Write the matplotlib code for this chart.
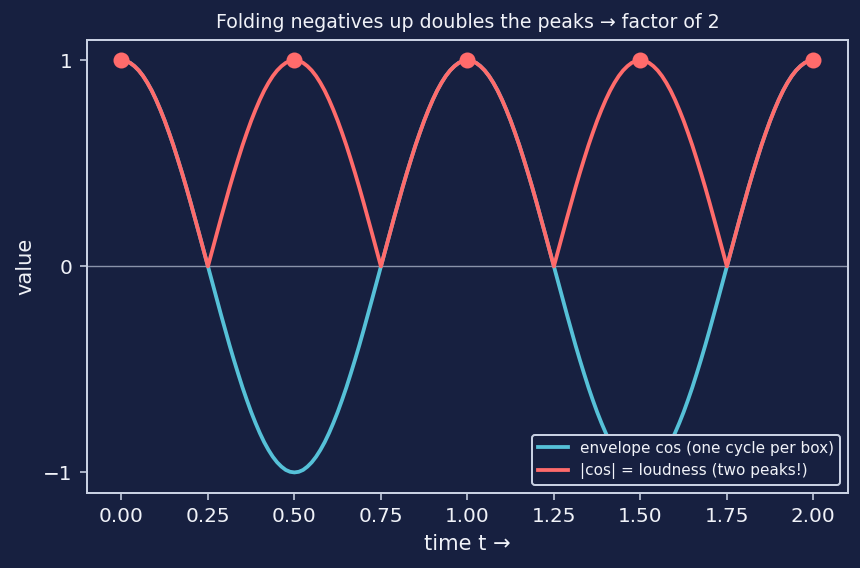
import numpy as np
import matplotlib
matplotlib.use("Agg")
import matplotlib.pyplot as plt

# time samples (every 0.0125) and values
t = [i * 0.0125 for i in range(161)]
envelope = [
    1.000, 0.997, 0.988, 0.972, 0.951, 0.924, 0.891, 0.853, 0.809, 0.760,
    0.707, 0.649, 0.588, 0.522, 0.454, 0.383, 0.309, 0.233, 0.156, 0.078,
    0.000, -0.078, -0.156, -0.233, -0.309, -0.383, -0.454, -0.522, -0.588, -0.649,
    -0.707, -0.760, -0.809, -0.853, -0.891, -0.924, -0.951, -0.972, -0.988, -0.997,
    -1.000, -0.997, -0.988, -0.972, -0.951, -0.924, -0.891, -0.853, -0.809, -0.760,
    -0.707, -0.649, -0.588, -0.522, -0.454, -0.383, -0.309, -0.233, -0.156, -0.078,
    0.000, 0.078, 0.156, 0.233, 0.309, 0.383, 0.454, 0.522, 0.588, 0.649,
    0.707, 0.760, 0.809, 0.853, 0.891, 0.924, 0.951, 0.972, 0.988, 0.997,
    1.000, 0.997, 0.988, 0.972, 0.951, 0.924, 0.891, 0.853, 0.809, 0.760,
    0.707, 0.649, 0.588, 0.522, 0.454, 0.383, 0.309, 0.233, 0.156, 0.078,
    0.000, -0.078, -0.156, -0.233, -0.309, -0.383, -0.454, -0.522, -0.588, -0.649,
    -0.707, -0.760, -0.809, -0.853, -0.891, -0.924, -0.951, -0.972, -0.988, -0.997,
    -1.000, -0.997, -0.988, -0.972, -0.951, -0.924, -0.891, -0.853, -0.809, -0.760,
    -0.707, -0.649, -0.588, -0.522, -0.454, -0.383, -0.309, -0.233, -0.156, -0.078,
    0.000, 0.078, 0.156, 0.233, 0.309, 0.383, 0.454, 0.522, 0.588, 0.649,
    0.707, 0.760, 0.809, 0.853, 0.891, 0.924, 0.951, 0.972, 0.988, 0.997,
    1.000,
]
loudness = [
    1.000, 0.997, 0.988, 0.972, 0.951, 0.924, 0.891, 0.853, 0.809, 0.760,
    0.707, 0.649, 0.588, 0.522, 0.454, 0.383, 0.309, 0.233, 0.156, 0.078,
    0.000, 0.078, 0.156, 0.233, 0.309, 0.383, 0.454, 0.522, 0.588, 0.649,
    0.707, 0.760, 0.809, 0.853, 0.891, 0.924, 0.951, 0.972, 0.988, 0.997,
    1.000, 0.997, 0.988, 0.972, 0.951, 0.924, 0.891, 0.853, 0.809, 0.760,
    0.707, 0.649, 0.588, 0.522, 0.454, 0.383, 0.309, 0.233, 0.156, 0.078,
    0.000, 0.078, 0.156, 0.233, 0.309, 0.383, 0.454, 0.522, 0.588, 0.649,
    0.707, 0.760, 0.809, 0.853, 0.891, 0.924, 0.951, 0.972, 0.988, 0.997,
    1.000, 0.997, 0.988, 0.972, 0.951, 0.924, 0.891, 0.853, 0.809, 0.760,
    0.707, 0.649, 0.588, 0.522, 0.454, 0.383, 0.309, 0.233, 0.156, 0.078,
    0.000, 0.078, 0.156, 0.233, 0.309, 0.383, 0.454, 0.522, 0.588, 0.649,
    0.707, 0.760, 0.809, 0.853, 0.891, 0.924, 0.951, 0.972, 0.988, 0.997,
    1.000, 0.997, 0.988, 0.972, 0.951, 0.924, 0.891, 0.853, 0.809, 0.760,
    0.707, 0.649, 0.588, 0.522, 0.454, 0.383, 0.309, 0.233, 0.156, 0.078,
    0.000, 0.078, 0.156, 0.233, 0.309, 0.383, 0.454, 0.522, 0.588, 0.649,
    0.707, 0.760, 0.809, 0.853, 0.891, 0.924, 0.951, 0.972, 0.988, 0.997,
    1.000,
]
peak_t = [0.0, 0.5, 1.0, 1.5, 2.0]
peak_v = [1, 1, 1, 1, 1]
xticks = [0.0, 0.25, 0.5, 0.75, 1.0, 1.25, 1.5, 1.75, 2.0]

bg = '#172040'
fg = '#f0f2f8'
spine = '#c8d0e2'
blue = '#56c1d8'
red = '#ff6b6b'

fig, ax = plt.subplots(figsize=(860/144, 568/144), dpi=144)
fig.patch.set_facecolor(bg)
ax.set_facecolor(bg)

ax.axhline(0, color='#8a93aa', lw=0.7, zorder=1)
ax.plot(t, envelope, color=blue, lw=1.9, label='envelope cos (one cycle per box)', zorder=2)
ax.plot(t, loudness, color=red, lw=1.9, label='|cos| = loudness (two peaks!)', zorder=3)
ax.plot(peak_t, peak_v, 'o', color=red, ms=7, zorder=4)

ax.set_xticks(xticks)
ax.set_yticks([-1, 0, 1])
ax.set_yticklabels(['\u22121', '0', '1'])
ax.set_ylim(-1.1, 1.1)
ax.set_xlim(-0.1, 2.1)

for s in ax.spines.values():
    s.set_color(spine)
    s.set_linewidth(1.0)
ax.tick_params(colors=fg, labelsize=10, color=spine)

ax.set_xlabel('time t \u2192', color=fg, fontsize=10.5)
ax.set_ylabel('value', color=fg, fontsize=10.5)
ax.set_title('Folding negatives up doubles the peaks \u2192 factor of 2', color=fg, fontsize=9.5)

leg = ax.legend(loc='lower right', fontsize=7.6, facecolor=bg, edgecolor=spine, framealpha=1.0)
for txt in leg.get_texts():
    txt.set_color(fg)

plt.subplots_adjust(left=0.101, right=0.986, top=0.93, bottom=0.132)
plt.savefig('out.png', dpi=144, facecolor=bg)
